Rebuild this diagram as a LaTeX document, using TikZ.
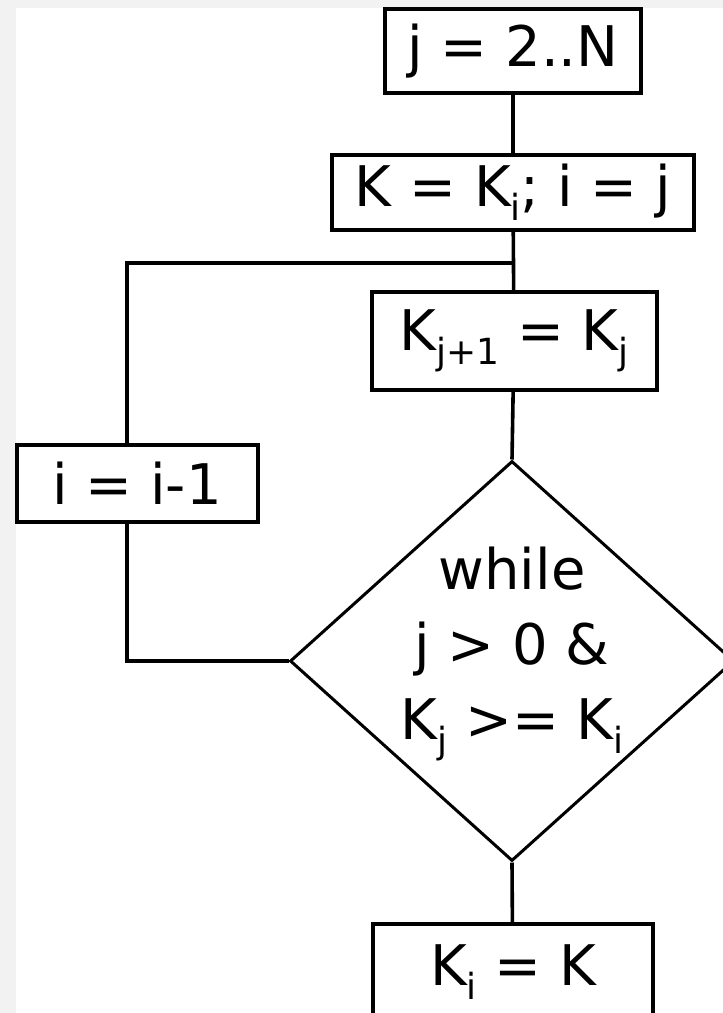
\documentclass[tikz,border=0pt]{standalone}
\usepackage{fontspec}
\setmainfont{DejaVu Sans}
\usetikzlibrary{shapes.geometric}
\definecolor{sfondo}{HTML}{F2F2F2}
\newcommand{\idx}[1]{\raisebox{-7pt}{\fontsize{18}{18}\selectfont #1}}
\tikzset{
  blocco/.style={draw, line width=2pt, inner sep=0pt, fill=white, font=\fontsize{28}{34}\selectfont},
  decisione/.style={draw, diamond, line width=1.5pt, inner sep=0pt, minimum width=222pt, minimum height=200pt},
  linea/.style={line width=1.8pt}
}
\begin{document}
\begin{tikzpicture}[x=0.5pt, y=-0.5pt]
        % Sfondo
        \useasboundingbox (0,0) rectangle (723,1013);
        \fill[sfondo] (0,0) rectangle (723,1013);
        \fill[white] (16,8) rectangle (723,1013);

        % Disegna i blocchi
        \node[blocco, minimum width=128pt, minimum height=42pt] (ciclo) at (513,51) {j = 2..N};
        \node[blocco, minimum width=181pt, minimum height=37.5pt] (init) at (513,192) {K = K\idx{i}; i = j};
        \node[blocco, minimum width=142.5pt, minimum height=49pt] (sposta) at (514,341) {K\idx{j+1} = K\idx{j}};
        \node[blocco, minimum width=120.5pt, minimum height=38.5pt] (dec) at (137,483) {i = i-1};
        \node[decisione] (test) at (512,661) {};
        \node[font=\fontsize{28}{37.5}\selectfont, align=center] (cond) at (512,654) {while\\j > 0 \&\\K\idx{j} >= K\idx{i}};
        \node[blocco, anchor=north, minimum width=140pt, text height=30.5pt, text depth=60pt] (fine) at (513,922) {K\idx{i} = K};

        % Punti di giunzione
        \coordinate (giunto) at (513,263);
        \coordinate (angolo) at (127,263);

        % Collegamenti
        \draw[linea] (ciclo) -- (init);
        \draw[linea] (init) -- (sposta);
        \draw[linea] (giunto) -- (angolo) -- (angolo |- dec.north);
        \draw[linea] (angolo |- dec.south) -- (angolo |- test.west) -- (test.west);
        \draw[linea] (sposta) -- (test.north);
        \draw[linea] (test.south) -- (fine);
    \end{tikzpicture}
\end{document}
